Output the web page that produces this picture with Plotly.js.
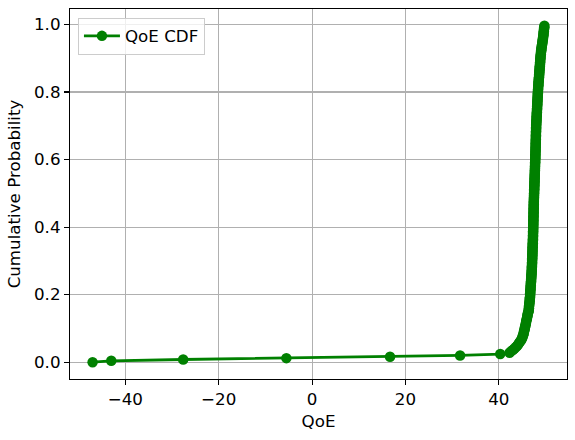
<!DOCTYPE html>
<html>
<head>
<meta charset="utf-8">
<script src="https://cdn.plot.ly/plotly-3.0.1.min.js"></script>
<style>
  html, body { margin: 0; padding: 0; background: #ffffff; }
  #cdf { width: 575px; height: 440px; }
</style>
</head>
<body>
<div id="cdf"></div>
<script>
const LINE_COLOR = "#008000";
const GRID_COLOR = "#b0b0b0";
const FONT = "DejaVu Sans, sans-serif";

// sorted QoE samples (250 samples)
const qoeSamples = [
  -47.0, -43.0, -27.6, -5.5, 16.7, 31.7, 40.3, 42.3,
  42.6, 43.0, 43.3, 43.6, 43.9, 44.1, 44.3, 44.5, 44.7,
  44.9, 45.0, 45.1, 45.2, 45.3, 45.35, 45.4, 45.5,
  45.55, 45.6, 45.7, 45.75, 45.8, 45.85, 45.9, 46.0, 46.05, 46.1, 46.15, 46.2, 46.3, 46.4,
  46.4, 46.45, 46.45, 46.5, 46.5, 46.55, 46.6, 46.6, 46.65, 46.65, 46.7, 46.7,
  46.71, 46.73, 46.76, 46.77, 46.8, 46.81, 46.84, 46.85, 46.88, 46.9, 46.91, 46.94, 46.95, 46.97, 46.99, 47.01, 47.03, 47.05,
  47.06, 47.07, 47.08, 47.1, 47.11, 47.12, 47.13, 47.14, 47.15, 47.16, 47.17, 47.18, 47.19, 47.2, 47.21, 47.22, 47.23, 47.24, 47.25, 47.27, 47.28, 47.3,
  47.3, 47.31, 47.32, 47.32, 47.33, 47.34, 47.34, 47.35, 47.36, 47.36, 47.37, 47.38, 47.38, 47.39, 47.4,
  47.4, 47.41, 47.42, 47.42, 47.43, 47.44, 47.44, 47.45, 47.46, 47.46, 47.47, 47.48, 47.48, 47.49, 47.5,
  47.51, 47.52, 47.53, 47.54, 47.55, 47.56, 47.57, 47.58, 47.59, 47.6, 47.61, 47.62, 47.63, 47.64, 47.65,
  47.66, 47.67, 47.68, 47.69, 47.7, 47.71, 47.72, 47.73, 47.74, 47.75, 47.76, 47.77, 47.78, 47.79, 47.8,
  47.81, 47.82, 47.82, 47.83, 47.84, 47.85, 47.86, 47.86, 47.87, 47.88, 47.89, 47.9, 47.9,
  47.91, 47.92, 47.93, 47.94, 47.94, 47.95, 47.96, 47.97, 47.98, 47.98, 47.99, 48.0,
  48.01, 48.03, 48.04, 48.06, 48.07, 48.09, 48.1, 48.12, 48.13, 48.15, 48.16, 48.18, 48.19, 48.2,
  48.22, 48.23, 48.25, 48.26, 48.28, 48.29, 48.31, 48.32, 48.34, 48.35, 48.37, 48.38, 48.4,
  48.42, 48.44, 48.46, 48.48, 48.5, 48.52, 48.55, 48.57, 48.6, 48.62, 48.64, 48.66, 48.68, 48.7, 48.72, 48.75, 48.77,
  48.8, 48.82, 48.84, 48.86, 48.88, 48.9, 48.93, 48.96, 48.99, 49.02, 49.05, 49.08, 49.12, 49.16, 49.2, 49.25, 49.3,
  49.34, 49.38, 49.42, 49.46, 49.5, 49.54, 49.57, 49.6, 49.63, 49.66, 49.69, 49.72, 49.76
];

// empirical CDF: rank / n
const n = qoeSamples.length;
const cdfValues = qoeSamples.map((_, i) => i / n);

const xMin = Math.min(...qoeSamples), xMax = Math.max(...qoeSamples);
const yMax = cdfValues[n - 1];
const xPad = (xMax - xMin) * 0.05, yPad = yMax * 0.05;

const trace = {
    x: qoeSamples,
    y: cdfValues,
    name: "QoE CDF",
    type: "scatter",
    mode: "lines+markers",
    line: { color: LINE_COLOR, width: 2.8 },
    marker: { color: LINE_COLOR, size: 10.5 },
};

const axisBase = {
    showgrid: true,
    gridcolor: GRID_COLOR,
    gridwidth: 1.1,
    zeroline: false,
    showline: true,
    linecolor: "#000000",
    linewidth: 1.1,
    mirror: true,
    ticks: "outside",
    ticklen: 5,
    tickwidth: 1.1,
    tickcolor: "#000000",
    tickfont: { family: FONT, size: 16.7, color: "#000000" },
};

const layout = {
    width: 575,
    height: 440,
    margin: { l: 70, r: 8, t: 9, b: 61 },
    font: { family: FONT, color: "#000000" },
    plot_bgcolor: "#ffffff",
    paper_bgcolor: "#ffffff",
    showlegend: true,
    legend: {
        x: 0.016, y: 0.977, xanchor: "left", yanchor: "top",
        bgcolor: "rgba(255,255,255,0.8)",
        bordercolor: "#cccccc",
        borderwidth: 1,
        itemwidth: 36,
        font: { family: FONT, size: 16.7, color: "#000000" },
    },
    xaxis: {
        ...axisBase,
        range: [xMin - xPad, xMax + xPad],
        dtick: 20,
        tick0: 0,
        title: { text: "QoE", font: { family: FONT, size: 16.7 }, standoff: 7 },
    },
    yaxis: {
        ...axisBase,
        range: [-yPad, yMax + yPad],
        dtick: 0.2,
        tick0: 0,
        tickformat: ".1f",
        title: { text: "Cumulative Probability", font: { family: FONT, size: 16.7 }, standoff: 9 },
    },
};

Plotly.newPlot("cdf", [trace], layout, { displayModeBar: false, staticPlot: true });
</script>
</body>
</html>
